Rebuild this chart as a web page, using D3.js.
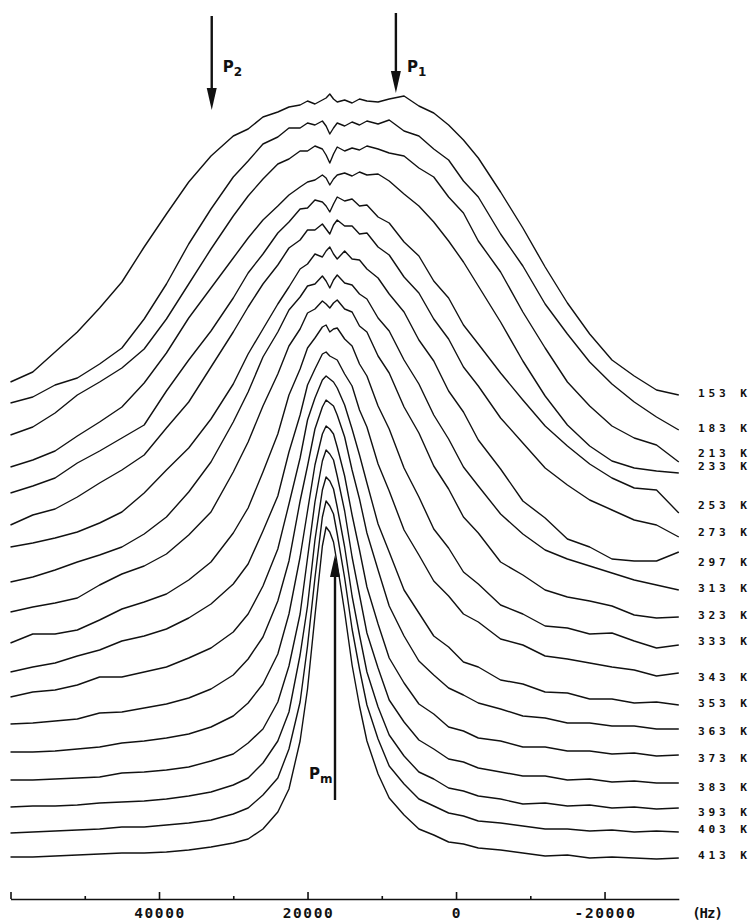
<!DOCTYPE html>
<html>
<head>
<meta charset="utf-8">
<script src="https://cdn.jsdelivr.net/npm/d3@7"></script>
<style>
  body { margin: 0; background: #fff; }
  svg { display: block; }
</style>
</head>
<body>
<svg id="chart" width="754" height="924"></svg>
<script>
// Frequency offsets (Hz) at which each spectrum is sampled
const freqHz = [60000, 57000, 54000, 51000, 48000, 45000, 42000, 39000, 36000, 33000,
  30000, 28000, 26000, 24000, 22500, 21000, 20000, 19000, 18000, 17500,
  17000, 16500, 16000, 15000, 14000, 13000, 12000, 10500, 9000, 7000,
  5000, 3000, 1000, -1000, -3000, -6000, -9000, -12000, -15000, -18000,
  -21000, -24000, -27000, -30000];

// Temperatures of the stacked spectra, top to bottom
const temperatures = ["153 K", "183 K", "213 K", "233 K", "253 K", "273 K", "297 K", "313 K", "323 K",
  "333 K", "343 K", "353 K", "363 K", "373 K", "383 K", "393 K", "403 K", "413 K"];

// Vertical stacking level of each spectrum's baseline (arbitrary intensity units)
const baselines = [495, 465, 435, 425, 381, 357, 330, 297, 269, 241, 210, 185, 164, 139, 113, 88, 65, 39];

// Line-shape intensities above the baseline, one row per temperature
const s153 = [22,32,52,72,96,122,157,190,222,248,268,275,287,292,297,299,303,300,304,306,310,305,302,304,301,305,303,302,305,308,298,291,279,264,246,212,176,137,101,70,44,28,14,9];
const s183 = [31,37,49,56,70,86,115,150,190,225,257,273,290,297,306,306,311,309,313,308,300,306,311,308,312,309,313,310,314,303,298,285,274,253,237,200,168,130,100,72,50,32,17,4];
const s213 = [29,37,51,69,82,96,115,145,180,215,248,268,285,300,305,313,313,318,315,309,301,310,317,313,316,314,318,315,311,308,296,287,267,251,223,192,152,116,82,58,38,26,19,2];
const s233 = [7,14,23,38,52,67,91,121,156,186,216,236,254,268,279,287,292,294,299,296,289,295,299,301,298,302,299,300,293,280,268,252,233,212,188,152,113,78,49,28,13,6,3,1];
const s253 = [25,32,40,55,67,80,93,127,158,187,220,245,264,285,296,309,310,318,316,312,306,314,321,317,319,312,313,301,295,276,262,237,220,193,174,145,118,92,72,54,40,30,28,5];
const s273 = [17,27,33,45,59,72,87,114,140,175,210,235,258,277,294,302,312,312,318,313,308,317,322,316,316,308,309,295,287,265,249,223,203,175,156,124,99,74,57,42,32,22,17,5];
const s297 = [22,26,31,37,46,57,76,99,121,150,185,215,240,265,282,300,305,315,312,318,322,315,310,318,310,309,300,291,275,257,229,208,178,157,129,100,68,51,30,22,10,8,8,17];
const s313 = [20,25,32,40,47,55,68,85,110,140,180,210,245,270,292,305,316,318,326,321,314,322,327,319,317,308,303,284,271,242,218,187,163,135,116,88,68,52,43,36,29,22,17,12];
const s323 = [18,23,27,32,45,56,64,76,95,118,158,188,224,256,284,301,317,321,329,326,322,327,330,321,318,304,298,274,257,223,197,164,141,113,97,68,55,40,33,29,24,15,12,13];
const s333 = [15,24,24,28,38,49,56,64,78,96,125,150,186,224,263,289,310,320,331,333,326,329,330,319,312,294,282,252,229,190,161,129,110,86,74,53,44,32,30,24,25,17,10,13];
const s343 = [17,22,26,33,39,48,53,60,71,85,105,125,158,193,237,274,304,320,335,337,333,331,329,315,303,279,262,225,198,159,134,108,93,75,67,50,44,33,30,26,22,19,13,16];
const s353 = [17,22,24,29,37,37,42,47,56,66,82,100,128,165,210,256,294,316,334,338,335,332,326,309,285,259,231,190,162,124,101,78,67,52,47,34,30,22,21,15,15,11,12,9];
const s363 = [11,12,14,16,22,23,27,31,37,46,60,76,98,134,174,234,269,306,328,335,332,329,320,298,265,236,202,165,129,99,74,60,47,40,32,26,19,17,12,12,9,9,6,6];
const s373 = [8,8,9,11,13,17,19,22,26,33,44,57,76,106,146,203,249,295,326,334,331,326,313,284,245,210,173,136,102,77,56,46,33,29,22,19,13,13,9,9,6,7,4,5];
const s383 = [6,6,7,8,9,13,14,16,19,25,32,43,57,84,120,172,228,284,325,336,332,326,310,275,229,191,153,118,86,64,46,37,27,24,18,14,10,10,6,7,4,5,3,3];
const s393 = [4,5,5,6,8,9,10,12,15,19,26,33,48,70,99,156,205,271,321,334,330,322,304,264,215,176,139,104,76,55,39,32,23,20,15,12,7,8,5,6,3,4,2,3];
const s403 = [1,2,3,4,5,7,7,9,11,14,20,26,39,56,85,132,188,256,317,333,328,320,300,256,205,165,129,95,68,50,35,28,21,18,13,11,8,5,5,3,4,2,3,2];
const s413 = [3,3,4,5,6,7,7,8,10,13,17,21,31,48,71,119,171,244,314,333,328,318,296,248,195,154,119,86,62,45,31,25,18,16,12,10,7,4,5,2,3,2,1,2];
const spectra = [s153, s183, s213, s233, s253, s273, s297, s313, s323, s333, s343, s353, s363, s373, s383, s393, s403, s413];

// Axis ticks
const majorTicks = [60000, 40000, 20000, 0, -20000];
const minorTicks = [50000, 30000, 10000, -10000];
const tickLabelValues = [40000, 20000, 0, -20000];
const tickLabels = ["40000", "20000", "0", "-20000"];

// Characteristic positions marked with arrows (Hz)
const edgeMarkers = [
  { name: "P", sub: "2", hz: 32900 },
  { name: "P", sub: "1", hz: 8100 }
];
const narrowPeak = { name: "P", sub: "m", hz: 16300 };

// ---------------------------------------------------------------------------
const svg = d3.select("#chart");
const ink = "#111";
const mono = "'DejaVu Sans Mono', 'Liberation Mono', monospace";

const x = d3.scaleLinear().domain([60000, -30000]).range([10.5, 678.8]);
const y = d3.scaleLinear().domain([0, 900]).range([899, -1]);

const line = d3.line()
  .x(d => x(d[0]))
  .y(d => y(d[1]))
  .curve(d3.curveLinear);

// stacked spectra
const traces = svg.append("g").attr("class", "spectra");
spectra.forEach((vals, i) => {
  const pts = vals.map((v, j) => [freqHz[j], baselines[i] + v]);
  traces.append("path")
    .datum(pts)
    .attr("d", line)
    .attr("fill", "none")
    .attr("stroke", ink)
    .attr("stroke-width", 1.4)
    .attr("stroke-linejoin", "round");
});

// temperature labels placed at fixed rows beside the right end of the traces
const labelRows = [393, 428, 453, 465.5, 505, 532, 562, 588, 615, 641, 677, 703, 731, 758, 787, 812, 829, 855];
const labels = svg.append("g")
  .attr("font-family", mono)
  .attr("font-weight", "bold")
  .attr("font-size", 11.2)
  .attr("letter-spacing", "3.8px")
  .attr("fill", ink);
temperatures.forEach((t, i) => {
  labels.append("text")
    .attr("x", 698)
    .attr("y", labelRows[i] + 4)
    .text(t);
});

// frequency axis: ticks point up from the axis line, labels below
const axisY = y(0);
const axisG = svg.append("g").attr("transform", `translate(0,${axisY})`);
axisG.call(d3.axisTop(x).tickValues(majorTicks).tickSize(7).tickSizeOuter(0).tickFormat(""));
axisG.append("g").call(d3.axisTop(x).tickValues(minorTicks).tickSize(3).tickSizeOuter(0).tickFormat(""))
  .select(".domain").remove();
axisG.selectAll("path, line").attr("stroke", ink).attr("stroke-width", 1.6);

const tickText = svg.append("g")
  .attr("font-family", mono)
  .attr("font-weight", "bold")
  .attr("font-size", 14.5)
  .attr("letter-spacing", "1.6px")
  .attr("text-anchor", "middle")
  .attr("fill", ink);
tickLabelValues.forEach((v, i) => {
  tickText.append("text").attr("x", x(v) + 1).attr("y", 918).text(tickLabels[i]);
});
tickText.append("text").attr("x", 707).attr("y", 918)
  .attr("font-size", 14).attr("letter-spacing", "-1px").text("(Hz)");

// arrows
function arrow(xPos, yTail, yTip) {
  const dir = yTip > yTail ? 1 : -1;
  const headLen = 22, headHalf = 5;
  svg.append("line")
    .attr("x1", xPos).attr("x2", xPos)
    .attr("y1", yTail).attr("y2", yTip - dir * headLen * 0.6)
    .attr("stroke", ink).attr("stroke-width", 2.4);
  svg.append("path")
    .attr("d", `M${xPos - headHalf},${yTip - dir * headLen} L${xPos + headHalf},${yTip - dir * headLen} L${xPos},${yTip} Z`)
    .attr("fill", ink);
}

function markLabel(xPos, yBase, m) {
  const t = svg.append("text")
    .attr("x", xPos).attr("y", yBase)
    .attr("font-family", "'DejaVu Sans', sans-serif")
    .attr("font-weight", "bold")
    .attr("font-size", 15)
    .attr("fill", ink);
  t.append("tspan").text(m.name);
  t.append("tspan").attr("dy", 4).attr("font-size", 12).text(m.sub);
}

const edgeTails = [16, 13], edgeTips = [110, 93];
edgeMarkers.forEach((m, i) => {
  const xp = x(m.hz);
  arrow(xp, edgeTails[i], edgeTips[i]);
  markLabel(xp + 11, 72, m);
});

const xm = x(narrowPeak.hz);
arrow(xm, 800, 555);
markLabel(xm - 26, 779, narrowPeak);
</script>
</body>
</html>
